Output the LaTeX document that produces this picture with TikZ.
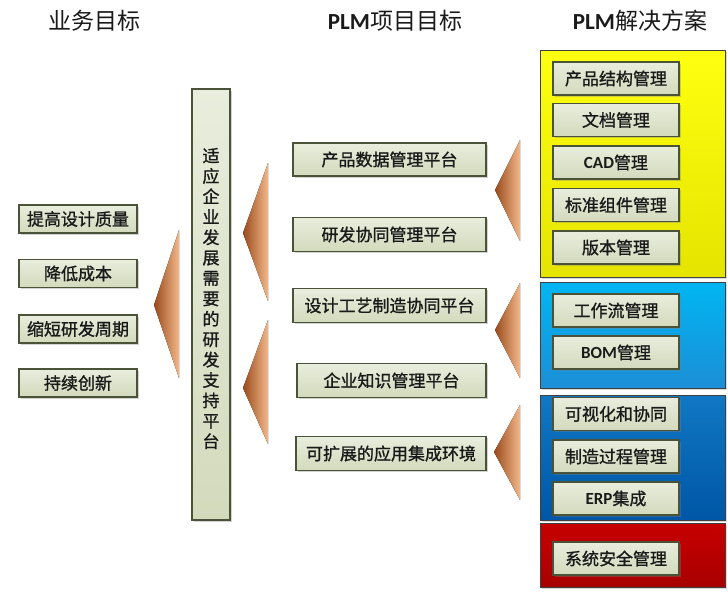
\documentclass[tikz,border=0pt]{standalone}
\usepackage{fontspec}
\setmainfont{Noto Sans CJK SC}
\newfontfamily\boxfont{Noto Sans CJK SC}[FakeBold=1.2]
\newfontfamily\lat{Carlito}
\usetikzlibrary{shadows}
\definecolor{boxtop}{HTML}{E9EDDD}
\definecolor{boxbot}{HTML}{D3DABC}
\definecolor{boxline}{HTML}{4A5238}
\definecolor{tridark}{HTML}{9A4A1C}
\definecolor{trilight}{HTML}{F2B88A}
\definecolor{paneline}{HTML}{404040}
\definecolor{yeltop}{HTML}{FFFF10}
\definecolor{yelbot}{HTML}{E4E400}
\definecolor{lbtop}{HTML}{00B6F2}
\definecolor{lbbot}{HTML}{1C8ED6}
\definecolor{dbtop}{HTML}{1078C4}
\definecolor{dbbot}{HTML}{0056A6}
\definecolor{rdtop}{HTML}{C80000}
\definecolor{rdbot}{HTML}{A80000}
\definecolor{txt}{HTML}{1A1A1A}
\tikzset{
  box/.style={draw=boxline, line width=1.1pt, top color=boxtop, bottom color=boxbot,
    inner sep=0pt, text=txt, font=\fontsize{17}{17}\selectfont\boxfont,
    drop shadow={shadow xshift=1.5pt, shadow yshift=-1.5pt, opacity=0.35}},
  panel/.style={draw=paneline, line width=0.8pt, inner sep=0pt,
    minimum width=185, drop shadow={shadow xshift=1.5pt, shadow yshift=-1.5pt, opacity=0.3}},
  title/.style={text=txt, font=\fontsize{23}{23}\selectfont},
  ptr/.style={left color=tridark, right color=trilight}
}
\begin{document}
\begin{tikzpicture}[x=1pt, y=-1pt]
\useasboundingbox (0,0) rectangle (728,592);
% titles
\node[title] (t1) at (94,21) {业务目标};
\node[title] (t2) at (395,21) {{\lat\bfseries PLM}项目目标};
\node[title] (t3) at (640,21) {{\lat\bfseries PLM}解决方案};
% left boxes
\foreach \n/\y/\t in {l1/219/提高设计质量, l2/273.5/降低成本, l3/329/缩短研发周期, l4/383/持续创新}
  \node[box, minimum width=118, minimum height=28] (\n) at (78,\y) {\t};
% left pointer
\fill[ptr] (154,305) -- (179,230) -- (179,378) -- cycle;
% vertical box
\node[box, minimum width=38, minimum height=431] (vb) at (211,304.5) {};
\node[text=txt, font=\fontsize{17}{20.4}\selectfont\boxfont, align=center, inner sep=0pt] (vt) at (211,298.5)
 {适\\应\\企\\业\\发\\展\\需\\要\\的\\研\\发\\支\\持\\平\\台};
% middle pointers
\fill[ptr] (243,233) -- (268,163) -- (268,301) -- cycle;
\fill[ptr] (243,388) -- (268,320) -- (268,444) -- cycle;
% middle boxes
\node[box, minimum width=193, minimum height=33] (m1) at (389.5,159.5) {产品数据管理平台};
\node[box, minimum width=193, minimum height=34] (m2) at (389.5,234.5) {研发协同管理平台};
\node[box, minimum width=193, minimum height=34] (m3) at (389.5,305.5) {设计工艺制造协同平台};
\node[box, minimum width=189, minimum height=34] (m4) at (391.5,380.5) {企业知识管理平台};
\node[box, minimum width=190, minimum height=34] (m5) at (391,453.5) {可扩展的应用集成环境};
% right pointers
\fill[ptr] (495,190) -- (520,140) -- (520,241) -- cycle;
\fill[ptr] (495,330) -- (520,283) -- (520,378) -- cycle;
\fill[ptr] (494,452) -- (520,405) -- (520,500) -- cycle;
% panels
\node[panel, top color=yeltop, bottom color=yelbot, minimum height=227] (p1) at (632.5,163.5) {};
\node[panel, top color=lbtop, bottom color=lbbot, minimum height=106] (p2) at (632.5,335) {};
\node[panel, top color=dbtop, bottom color=dbbot, minimum height=125] (p3) at (632.5,457.5) {};
\node[panel, top color=rdtop, bottom color=rdbot, minimum height=64] (p4) at (632.5,555) {};
% right boxes
\foreach \n/\y/\t in {r1/78.5/产品结构管理, r2/120/文档管理, r3/162.5/{{\lat\bfseries CAD}管理}, r4/205/标准组件管理, r5/247.5/版本管理,
  r6/310.5/工作流管理, r7/352.5/{{\lat\bfseries BOM}管理}, r8/414/可视化和协同, r9/456.5/制造过程管理, r10/498.5/{{\lat\bfseries ERP}集成}, r11/558.5/系统安全管理}
  \node[box, minimum width=126, minimum height=33] (\n) at (616,\y) {\t};
\end{tikzpicture}
\end{document}
